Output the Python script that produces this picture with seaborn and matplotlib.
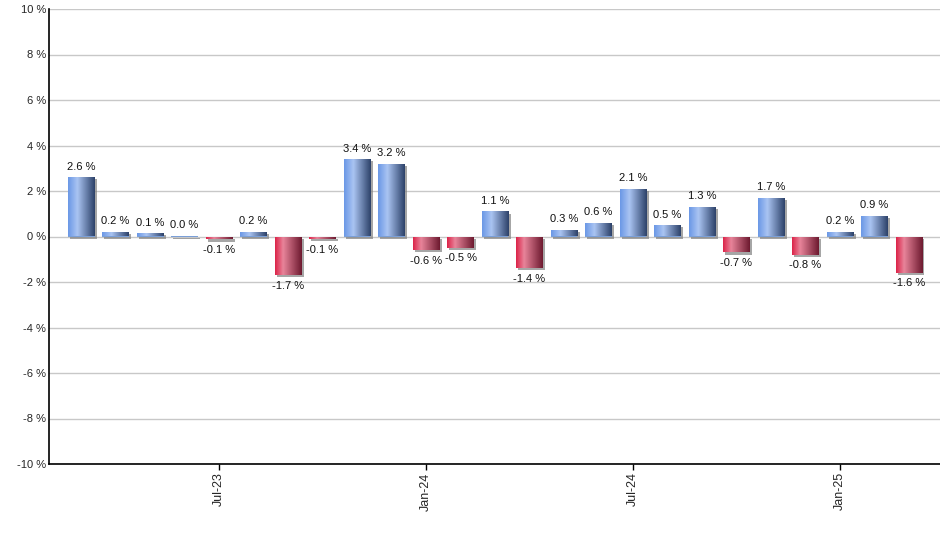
import numpy as np
import pandas as pd
import matplotlib
matplotlib.use("Agg")
import matplotlib.pyplot as plt
import seaborn as sns
from matplotlib.colors import LinearSegmentedColormap
import matplotlib.patheffects as pe

months = ["Mar-23", "Apr-23", "May-23", "Jun-23", "Jul-23", "Aug-23", "Sep-23", "Oct-23",
          "Nov-23", "Dec-23", "Jan-24", "Feb-24", "Mar-24", "Apr-24", "May-24", "Jun-24",
          "Jul-24", "Aug-24", "Sep-24", "Oct-24", "Nov-24", "Dec-24", "Jan-25", "Feb-25", "Mar-25"]
values = [2.6, 0.2, 0.15, 0.04, -0.13, 0.2, -1.7, -0.12, 3.4, 3.2, -0.6, -0.5, 1.1, -1.4,
          0.3, 0.6, 2.1, 0.5, 1.3, -0.7, 1.7, -0.8, 0.2, 0.9, -1.6]
tick_labels = ["Jul-23", "Jan-24", "Jul-24", "Jan-25"]
y_ticks = [-10, -8, -6, -4, -2, 0, 2, 4, 6, 8, 10]

df = pd.DataFrame({"month": months, "value": values})
df["sign"] = np.where(df["value"] >= 0, "pos", "neg")

sns.set_style("white")
plt.rcParams["font.family"] = ["Liberation Sans", "DejaVu Sans"]

fig = plt.figure(figsize=(9.4, 5.5), dpi=100)
ax = fig.add_axes([49 / 940, 1 - 464 / 550, 1 - 49 / 940, (464 - 9) / 550])

sns.barplot(data=df, x="month", y="value", hue="sign", order=months,
            palette={"pos": "#7a9fd8", "neg": "#c83a5a"}, dodge=False,
            width=0.78, legend=False, ax=ax, saturation=1, linewidth=0)

blue_cm = LinearSegmentedColormap.from_list(
    "b", [(0, "#6b98e6"), (0.35, "#aac4f2"), (1.0, "#2d426a")])
red_cm = LinearSegmentedColormap.from_list(
    "r", [(0, "#dc2449"), (0.3, "#e8849a"), (1.0, "#6e1a30")])
grad = np.linspace(0, 1, 64).reshape(1, -1)

for patch in ax.patches:
    h = patch.get_height()
    if patch.get_width() == 0:
        continue
    x0 = patch.get_x()
    w = patch.get_width()
    y0 = patch.get_y()
    patch.set_path_effects([pe.SimplePatchShadow(offset=(1.5, -1.5), shadow_rgbFace="#808080", alpha=0.7),
                            pe.Normal()])
    cm = blue_cm if h >= 0 else red_cm
    img = ax.imshow(grad, cmap=cm, extent=[x0, x0 + w, y0, y0 + h], aspect="auto",
                    interpolation="bilinear", zorder=patch.get_zorder() + 0.1)
    img.set_clip_path(patch)

for i, v in enumerate(values):
    if v >= 0:
        ax.annotate(f"{v:.1f} %", (i, v), xytext=(0, 4), textcoords="offset points",
                    ha="center", va="bottom", fontsize=8, color="#111111")
    else:
        ax.annotate(f"{v:.1f} %", (i, v), xytext=(0, -4), textcoords="offset points",
                    ha="center", va="top", fontsize=8, color="#111111")

ax.set_xlim(-0.93, len(months) - 0.1)
ax.set_ylim(-10, 10)
ax.set_yticks(y_ticks)
ax.set_yticklabels([f"{t} %" for t in y_ticks], fontsize=8)
ax.yaxis.grid(True, color="#c8c8c8", linewidth=1)
ax.set_axisbelow(True)
ax.set_xticks([months.index(t) for t in tick_labels])
ax.set_xticklabels(tick_labels, rotation=90, fontsize=9)
ax.tick_params(axis="x", bottom=True, length=4, width=1, color="black", pad=2)
ax.tick_params(axis="y", left=False, length=0, pad=2)
ax.set_xlabel("")
ax.set_ylabel("")
for s in ["top", "right"]:
    ax.spines[s].set_visible(False)
for s in ["left", "bottom"]:
    ax.spines[s].set_color("black")
    ax.spines[s].set_linewidth(1.2)

fig.savefig("out.png", dpi=100)
